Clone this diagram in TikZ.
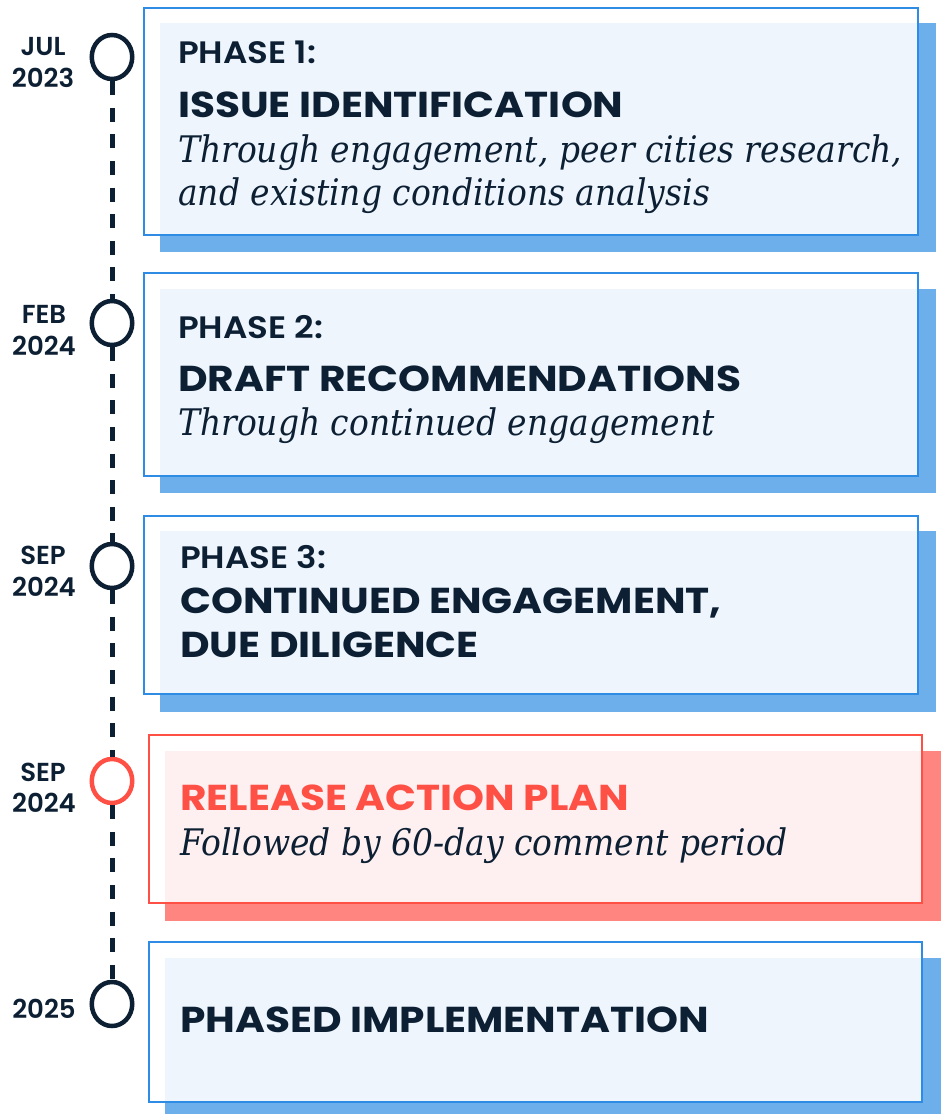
\documentclass[tikz,border=0pt]{standalone}
\usepackage{fontspec}
\usetikzlibrary{shapes.geometric}
\newfontfamily\popdate{Poppins}[BoldFont={Poppins SemiBold}]
\newfontfamily\popphase{Poppins}[BoldFont={Poppins SemiBold},FakeStretch=1.1]
\newfontfamily\pophead{Poppins}[FakeStretch=1.13]
\newfontfamily\serifit{DejaVu Serif}[FakeStretch=0.9]
\definecolor{navy}{HTML}{0C1F33}
\definecolor{outB}{HTML}{2F8CE5}
\definecolor{shB}{HTML}{6CAFEA}
\definecolor{fillB}{HTML}{EEF5FD}
\definecolor{outR}{HTML}{FF5046}
\definecolor{shR}{HTML}{FF8680}
\definecolor{fillR}{HTML}{FEF0F0}
\begin{document}
\begin{tikzpicture}[x=1pt,y=-1pt,
  shadowbox/.style={fill=shB,draw=none,anchor=north west,inner sep=0pt,outer sep=0pt},
  fillbox/.style={fill=fillB,draw=none,anchor=north west,inner sep=0pt,outer sep=0pt},
  outlinebox/.style={draw=outB,line width=2.5pt,anchor=north west,inner sep=0pt,outer sep=0pt},
  redbox/.style={draw=outR},
  redshadow/.style={fill=shR},
  redfill/.style={fill=fillR},
  tdot/.style={ellipse,draw=navy,fill=white,line width=4.5pt,minimum width=40.5pt,minimum height=44pt,inner sep=0pt},
  reddot/.style={draw=outR},
  tline/.style={draw=navy,line width=5pt,dash pattern=on 14pt off 12.6pt},
  datelbl/.style={font=\popdate\bfseries\fontsize{26}{26}\selectfont,text=navy,anchor=base,inner sep=0pt},
  phaselbl/.style={font=\popphase\bfseries\fontsize{31}{31}\selectfont,text=navy,anchor=base west,inner sep=0pt},
  headlbl/.style={font=\pophead\bfseries\fontsize{36}{36}\selectfont,text=navy,anchor=base west,inner sep=0pt},
  sublbl/.style={font=\serifit\itshape\fontsize{36.6}{36.6}\selectfont,text=navy,anchor=base west,inner sep=0pt}
]
\useasboundingbox (0,0) rectangle (946,1114);
% box 1
\node[shadowbox,minimum width=776pt,minimum height=229pt] (s1) at (160,23) {};
\node[fillbox,minimum width=758pt,minimum height=212pt] (f1) at (160,23) {};
\node[outlinebox,minimum width=774pt,minimum height=227pt] (b1) at (144,8) {};
% box 2
\node[shadowbox,minimum width=776pt,minimum height=204pt] (s2) at (160,289) {};
\node[fillbox,minimum width=758pt,minimum height=187pt] (f2) at (160,289) {};
\node[outlinebox,minimum width=774pt,minimum height=203pt] (b2) at (144,273) {};
% box 3
\node[shadowbox,minimum width=776pt,minimum height=181pt] (s3) at (160,531) {};
\node[fillbox,minimum width=758pt,minimum height=163pt] (f3) at (160,531) {};
\node[outlinebox,minimum width=774pt,minimum height=178pt] (b3) at (144,516) {};
% box 4
\node[shadowbox,redshadow,minimum width=776pt,minimum height=170pt] (s4) at (165,751) {};
\node[fillbox,redfill,minimum width=757pt,minimum height=152pt] (f4) at (165,751) {};
\node[outlinebox,redbox,minimum width=773pt,minimum height=168pt] (b4) at (149,735) {};
% box 5
\node[shadowbox,minimum width=776pt,minimum height=162pt] (s5) at (165,958) {};
\node[fillbox,minimum width=757pt,minimum height=144pt] (f5) at (165,958) {};
\node[outlinebox,minimum width=773pt,minimum height=160pt] (b5) at (149,942) {};
% timeline
\node[tdot] (c1) at (112,57) {};
\node[tdot] (c2) at (112,323) {};
\node[tdot] (c3) at (112,566) {};
\node[tdot,reddot] (c4) at (112,781) {};
\node[tdot] (c5) at (112,1004) {};
\draw[tline] (c1) -- (c2);
\draw[tline] (c2) -- (c3);
\draw[tline] (c3) -- (c4);
\draw[tline] (c4) -- (c5);
% dates
\node[datelbl] (d1a) at (43,55) {JUL};
\node[datelbl] (d1b) at (43,87) {2023};
\node[datelbl] (d2a) at (44,323) {FEB};
\node[datelbl] (d2b) at (44,355) {2024};
\node[datelbl] (d3a) at (43,564) {SEP};
\node[datelbl] (d3b) at (44,596) {2024};
\node[datelbl] (d4a) at (43,781) {SEP};
\node[datelbl] (d4b) at (44,812) {2024};
\node[datelbl] (d5a) at (44,1018) {2025};
% texts
\node[phaselbl] (p1) at (178,63) {PHASE 1:};
\node[headlbl] (h1) at (178,117) {ISSUE IDENTIFICATION};
\node[sublbl] (t1a) at (178,162) {Through engagement, peer cities research,};
\node[sublbl] (t1b) at (178,205) {and existing conditions analysis};
\node[phaselbl] (p2) at (178,338) {PHASE 2:};
\node[headlbl] (h2) at (178,391) {DRAFT RECOMMENDATIONS};
\node[sublbl] (t2) at (178,435) {Through continued engagement};
\node[phaselbl] (p3) at (180,568) {PHASE 3:};
\node[headlbl] (h3a) at (180,613) {CONTINUED ENGAGEMENT,};
\node[headlbl] (h3b) at (180,657) {DUE DILIGENCE};
\node[headlbl,text=outR] (h4) at (180,810) {RELEASE ACTION PLAN};
\node[sublbl] (t4) at (180,855) {Followed by 60-day comment period};
\node[headlbl] (h5) at (180,1032) {PHASED IMPLEMENTATION};
\end{tikzpicture}
\end{document}
